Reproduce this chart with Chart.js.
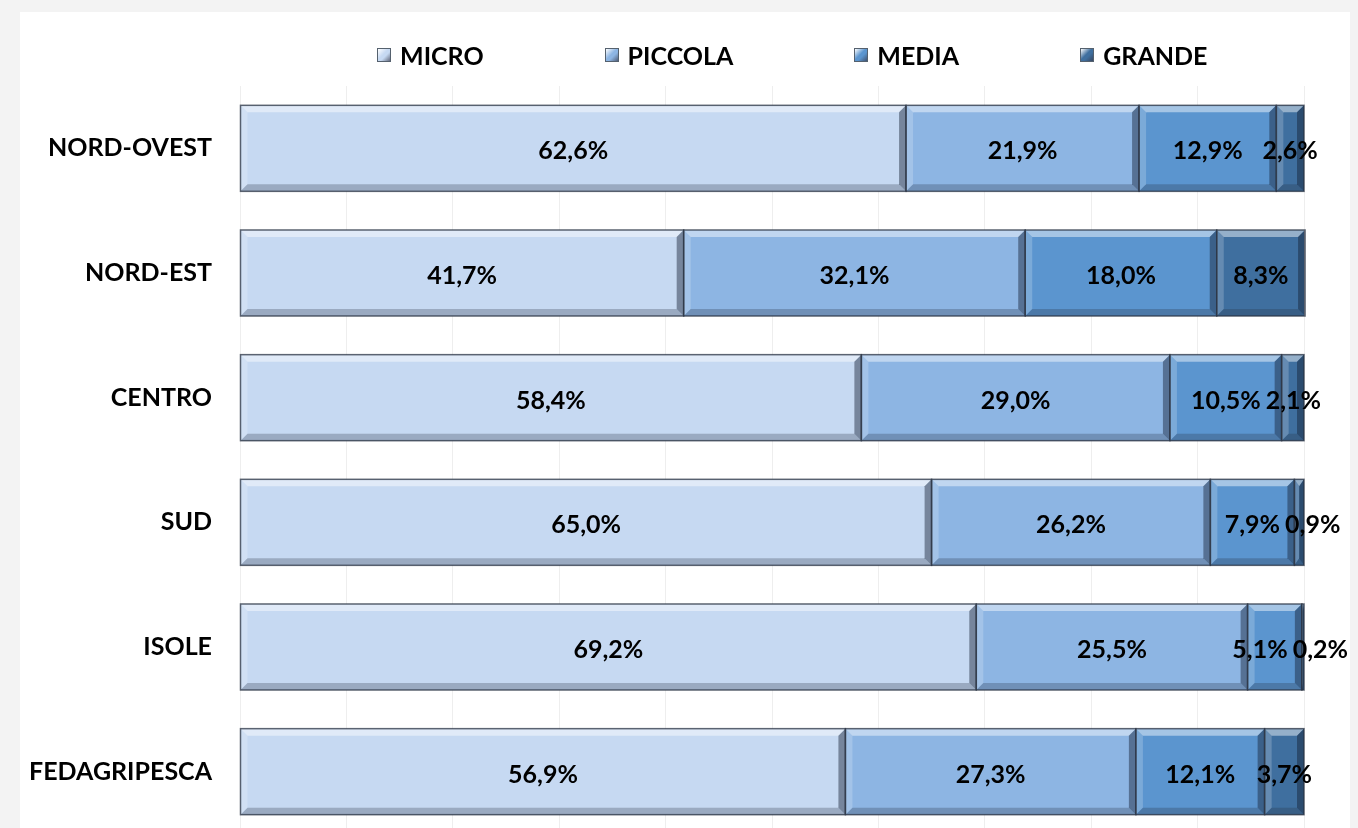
<!DOCTYPE html>
<html>
<head>
<meta charset="utf-8">
<script src="https://cdn.jsdelivr.net/npm/chart.js@4.4.1/dist/chart.umd.min.js"></script>
<style>
  html, body { margin: 0; padding: 0; background: #f3f3f3; overflow: hidden; }
  body { width: 1358px; height: 828px; position: relative; font-family: Lato, "Open Sans", sans-serif; }
  #card { position: absolute; left: 20px; top: 12px; width: 1330px; height: 830px; background: #fff; }
  #grafico-dimensioni { position: absolute; left: 0; top: 0; }
  #legenda { position: absolute; left: 357px; top: 28px; display: flex; gap: 121px; align-items: center; z-index: 2; }
  .voce { display: flex; align-items: center; font-weight: bold; font-size: 25px; color: #000; }
  .box { width: 14px; height: 14px; margin-right: 9px; border: 1px solid #55616e; box-sizing: border-box; }
</style>
</head>
<body>
<div id="card">
  <canvas id="grafico-dimensioni" width="1330" height="822"></canvas>
  <div id="legenda"></div>
</div>
<script>
const categorie = ['NORD-OVEST', 'NORD-EST', 'CENTRO', 'SUD', 'ISOLE', 'FEDAGRIPESCA'];
const serie = ['MICRO', 'PICCOLA', 'MEDIA', 'GRANDE'];
const micro   = [62.6, 41.7, 58.4, 65.0, 69.2, 56.9];
const piccola = [21.9, 32.1, 29.0, 26.2, 25.5, 27.3];
const media   = [12.9, 18.0, 10.5, 7.9, 5.1, 12.1];
const grande  = [2.6, 8.3, 2.1, 0.9, 0.2, 3.7];
const colori = ['#c6d9f2', '#8db5e3', '#5b95cf', '#3f6f9f'];
const fontEtichette = 'bold 25px Lato, "Open Sans", sans-serif';

// legenda in html
const legenda = document.getElementById('legenda');
serie.forEach((nome, i) => {
    const v = document.createElement('div');
    v.className = 'voce';
    v.innerHTML = '<span class="box" style="background:linear-gradient(135deg,#fff 0%,' + colori[i] + ' 45%,' + colori[i] + ' 60%,#334 120%)"></span>' + nome;
    legenda.appendChild(v);
});

function formatta(v) {
    return v.toFixed(1).replace('.', ',') + '%';
}

// effetto rilievo sulle barre + etichette
const rilievo = {
    id: 'rilievo',
    afterDatasetsDraw(chart) {
        const ctx = chart.ctx;
        const b = 7;
        chart.data.datasets.forEach((ds, i) => {
            chart.getDatasetMeta(i).data.forEach(bar => {
                const l = Math.min(bar.base, bar.x), r = Math.max(bar.base, bar.x);
                const t = bar.y - bar.height / 2, bt = bar.y + bar.height / 2;
                const bb = Math.min(b, (r - l) / 2);
                ctx.save();
                ctx.fillStyle = 'rgba(255,255,255,0.45)';
                ctx.beginPath();
                ctx.moveTo(l, t); ctx.lineTo(r, t); ctx.lineTo(r - bb, t + b); ctx.lineTo(l + bb, t + b); ctx.closePath(); ctx.fill();
                ctx.fillStyle = 'rgba(255,255,255,0.2)';
                ctx.beginPath();
                ctx.moveTo(l, t); ctx.lineTo(l + bb, t + b); ctx.lineTo(l + bb, bt - b); ctx.lineTo(l, bt); ctx.closePath(); ctx.fill();
                ctx.fillStyle = 'rgba(40,50,70,0.28)';
                ctx.beginPath();
                ctx.moveTo(l, bt); ctx.lineTo(r, bt); ctx.lineTo(r - bb, bt - b); ctx.lineTo(l + bb, bt - b); ctx.closePath(); ctx.fill();
                ctx.fillStyle = 'rgba(20,30,50,0.45)';
                ctx.beginPath();
                ctx.moveTo(r, t); ctx.lineTo(r - bb, t + b); ctx.lineTo(r - bb, bt - b); ctx.lineTo(r, bt); ctx.closePath(); ctx.fill();
                ctx.strokeStyle = 'rgba(40,50,65,0.75)';
                ctx.lineWidth = 1.5;
                ctx.strokeRect(l, t, r - l, bt - t);
                ctx.restore();
            });
        });

        ctx.save();
        ctx.font = fontEtichette;
        ctx.fillStyle = '#000';
        ctx.textAlign = 'center';
        ctx.textBaseline = 'middle';
        const gap = 5;
        const limite = chart.width - 2;
        categorie.forEach((c, j) => {
            // posizioni centrate, poi spostate per non sovrapporsi
            const et = chart.data.datasets.map((ds, i) => {
                const bar = chart.getDatasetMeta(i).data[j];
                const testo = formatta(ds.data[j]);
                return { testo, x: (bar.base + bar.x) / 2, w: ctx.measureText(testo).width, y: bar.y };
            });
            for (let k = 1; k < et.length; k++) {
                const min = et[k - 1].x + et[k - 1].w / 2 + gap + et[k].w / 2;
                if (et[k].x < min) et[k].x = min;
            }
            for (let k = et.length - 1; k >= 0; k--) {
                if (et[k].x + et[k].w / 2 > limite) et[k].x = limite - et[k].w / 2;
                if (k < et.length - 1) {
                    const max = et[k + 1].x - et[k + 1].w / 2 - gap - et[k].w / 2;
                    if (et[k].x > max) et[k].x = max;
                }
            }
            et.forEach(e => ctx.fillText(e.testo, e.x, e.y + 3));
        });
        ctx.restore();
    }
};

const ctx = document.getElementById('grafico-dimensioni');

new Chart(ctx, {
    type: 'bar',
    data: {
        labels: categorie,
        datasets: [
            { label: serie[0], data: micro, backgroundColor: colori[0] },
            { label: serie[1], data: piccola, backgroundColor: colori[1] },
            { label: serie[2], data: media, backgroundColor: colori[2] },
            { label: serie[3], data: grande, backgroundColor: colori[3] }
        ]
    },
    options: {
        indexAxis: 'y',
        responsive: false,
        animation: false,
        layout: { padding: { top: 74, right: 46, bottom: 0, left: 0 } },
        datasets: {
            bar: {
                categoryPercentage: 0.69,
                barPercentage: 1,
                borderWidth: 0
            }
        },
        plugins: {
            legend: { display: false },
            tooltip: { enabled: false }
        },
        scales: {
            x: {
                stacked: true,
                min: 0,
                max: 100,
                afterFit(scale) { scale.height = 0; },
                ticks: { display: false, stepSize: 10 },
                grid: { color: '#eeeeee', drawTicks: false },
                border: { display: false }
            },
            y: {
                stacked: true,
                afterFit(scale) {
                    scale.width = 220;
                    scale.paddingTop = 0;
                    scale.paddingBottom = 0;
                },
                ticks: {
                    color: '#000',
                    padding: 28,
                    font: { family: 'Lato, "Open Sans", sans-serif', size: 25, weight: 'bold' }
                },
                grid: { display: false, drawTicks: false },
                border: { display: false }
            }
        }
    },
    plugins: [rilievo]
});
</script>
</body>
</html>
